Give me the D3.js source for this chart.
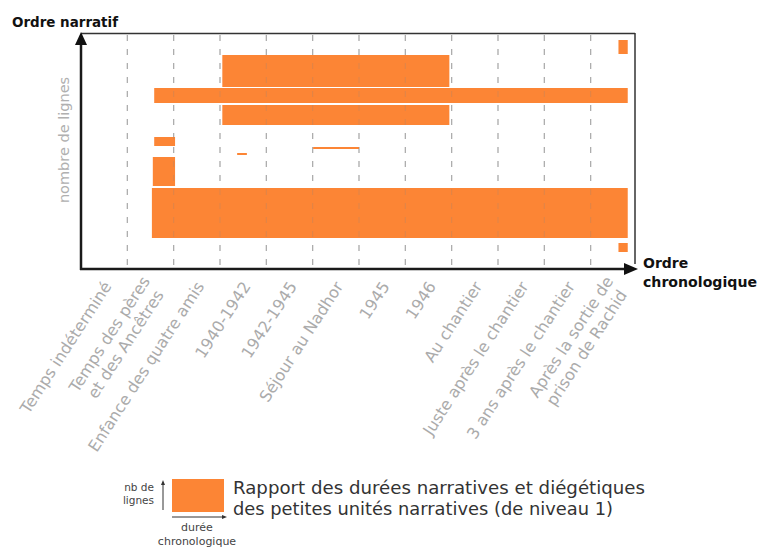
<!DOCTYPE html>
<html><head><meta charset="utf-8">
<script src="https://cdn.jsdelivr.net/npm/d3@7"></script>
<style>body{margin:0;background:#fff}svg{display:block}text{font-family:"DejaVu Sans",sans-serif}</style>
</head><body>
<svg id="chart" width="762" height="547"></svg>
<script>
// Chronological categories (x axis)
const categories = [
  "Temps indéterminé",
  "Temps des pères\net des Ancêtres",
  "Enfance des quatre amis",
  "1940-1942",
  "1942-1945",
  "Séjour au Nadhor",
  "1945",
  "1946",
  "Au chantier",
  "Juste après le chantier",
  "3 ans après le chantier",
  "Après la sortie de\nprison de Rachid"
];
// Narrative units: chronological span (in category units) and narrative position (lines)
const unitStart = [11.6, 1.58, 3.05, 3.05, 1.58, 5.01, 3.37, 1.55, 1.53, 11.6];
const unitEnd   = [11.8, 11.8, 7.95, 7.95, 2.03, 6.0, 3.58, 2.03, 11.8, 11.8];
const unitLow   = [215, 166, 182, 144, 123, 120, 114, 83, 31, 17];
const unitHigh  = [229, 181, 214, 164, 132, 122, 116, 112, 81, 26];
const yMax = 236;

const svg = d3.select("#chart");
const L = 81, R = 637, T = 33, B = 269;
const x = d3.scaleLinear().domain([0, categories.length]).range([L, R]);
const y = d3.scaleLinear().domain([0, yMax]).range([B, T]);
const orange = "#fc8535";

// gridlines under bars
const grid = d3.range(1, categories.length);
svg.append("g").selectAll("line").data(grid).join("line")
  .attr("x1", d => x(d)).attr("x2", d => x(d)).attr("y1", T + 2).attr("y2", B)
  .attr("stroke", "#b4b4b4").attr("stroke-width", 1.2).attr("stroke-dasharray", "6,8");

// bars
const units = unitStart.map((s, i) => ({s, e: unitEnd[i], lo: unitLow[i], hi: unitHigh[i]}));
svg.append("g").selectAll("rect").data(units).join("rect")
  .attr("x", d => x(d.s)).attr("width", d => x(d.e) - x(d.s))
  .attr("y", d => y(d.hi)).attr("height", d => y(d.lo) - y(d.hi))
  .attr("fill", orange);

// gridlines faint over bars
svg.append("g").selectAll("line").data(grid).join("line")
  .attr("x1", d => x(d)).attr("x2", d => x(d)).attr("y1", T + 2).attr("y2", B)
  .attr("stroke", "#888").attr("stroke-opacity", 0.25).attr("stroke-width", 1).attr("stroke-dasharray", "6,8");

// frame: top and right
svg.append("line").attr("x1", L).attr("x2", R - 2).attr("y1", T + 0.5).attr("y2", T + 0.5)
  .attr("stroke", "#333").attr("stroke-width", 1.5);
svg.append("line").attr("x1", R - 2).attr("x2", R - 2).attr("y1", T).attr("y2", B - 5)
  .attr("stroke", "#333").attr("stroke-width", 1.5);

// axes
svg.append("line").attr("x1", L).attr("x2", L).attr("y1", B + 1).attr("y2", T + 8)
  .attr("stroke", "#1a1a1a").attr("stroke-width", 2.5);
svg.append("path").attr("d", `M${L},${T - 1} L${L - 6},${T + 12} L${L + 6},${T + 12} Z`).attr("fill", "#111");
svg.append("line").attr("x1", L - 1).attr("x2", R - 10).attr("y1", B).attr("y2", B)
  .attr("stroke", "#1a1a1a").attr("stroke-width", 2.5);
svg.append("path").attr("d", `M${R + 1},${B} L${R - 13},${B - 6} L${R - 13},${B + 6} Z`).attr("fill", "#111");

// axis titles
svg.append("text").attr("x", 12).attr("y", 27).attr("font-weight", "bold").attr("font-size", 14)
  .attr("textLength", 106).attr("lengthAdjust", "spacingAndGlyphs")
  .attr("fill", "#111").text("Ordre narratif");
const xt = svg.append("text").attr("x", 643).attr("font-weight", "bold").attr("font-size", 14).attr("fill", "#111");
xt.append("tspan").attr("x", 643).attr("y", 268).text("Ordre");
xt.append("tspan").attr("x", 643).attr("y", 287).attr("textLength", 114).attr("lengthAdjust", "spacingAndGlyphs").text("chronologique");

svg.append("text").attr("transform", `translate(69,140) rotate(-90)`)
  .attr("text-anchor", "middle").attr("font-size", 14.5).attr("fill", "#b0b0b0").text("nombre de lignes");

// x labels
const ang = -57;
const lab = svg.append("g").selectAll("text").data(categories).join("text")
  .attr("transform", (d, i) => `translate(${x(i + 0.5) + 3},${B + 14}) rotate(${ang})`)
  .attr("text-anchor", "end").attr("font-size", 16).attr("fill", "#ababab");
lab.each(function(d) {
  const lines = d.split("\n");
  const t = d3.select(this);
  lines.forEach((ln, j) => {
    t.append("tspan").attr("x", j * -4).attr("y", (j - (lines.length - 1) / 2) * 19 + 6).text(ln);
  });
});

// legend
const lg = svg.append("g");
lg.append("rect").attr("x", 172).attr("y", 479).attr("width", 52).attr("height", 33).attr("fill", orange);
lg.append("line").attr("x1", 163).attr("x2", 163).attr("y1", 510).attr("y2", 484).attr("stroke", "#333").attr("stroke-width", 1);
lg.append("path").attr("d", "M163,480 L161,485 L165,485 Z").attr("fill", "#333");
lg.append("line").attr("x1", 172).attr("x2", 222).attr("y1", 517).attr("y2", 517).attr("stroke", "#333").attr("stroke-width", 1);
lg.append("path").attr("d", "M227,517 L222,515 L222,519 Z").attr("fill", "#333");
lg.append("text").attr("x", 154).attr("y", 491).attr("text-anchor", "end").attr("font-size", 10.5).attr("fill", "#444").text("nb de");
lg.append("text").attr("x", 154).attr("y", 504).attr("text-anchor", "end").attr("font-size", 10.5).attr("fill", "#444").text("lignes");
lg.append("text").attr("x", 197).attr("y", 531).attr("text-anchor", "middle").attr("font-size", 11).attr("fill", "#444").text("durée");
lg.append("text").attr("x", 197).attr("y", 545).attr("text-anchor", "middle").attr("font-size", 11).attr("fill", "#444").text("chronologique");
lg.append("text").attr("x", 233).attr("y", 494).attr("font-size", 18).attr("fill", "#333")
  .attr("textLength", 412).attr("lengthAdjust", "spacingAndGlyphs").text("Rapport des durées narratives et diégétiques");
lg.append("text").attr("x", 233).attr("y", 515).attr("font-size", 18).attr("fill", "#333")
  .attr("textLength", 380).attr("lengthAdjust", "spacingAndGlyphs").text("des petites unités narratives (de niveau 1)");
</script>
</body></html>
